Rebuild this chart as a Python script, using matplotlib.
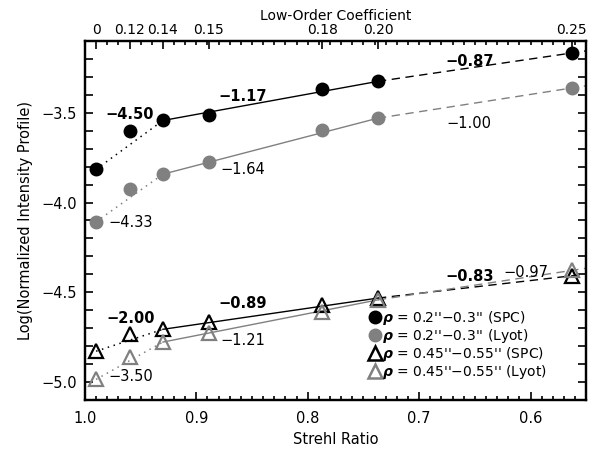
import matplotlib
matplotlib.use('Agg')
import matplotlib.pyplot as plt
from matplotlib.ticker import MultipleLocator
from matplotlib.lines import Line2D

# Strehl ratio of each case and the matching low-order coefficient
strehl = [0.990, 0.960, 0.930, 0.889, 0.787, 0.737, 0.563]
coef_labels = ['0', '0.12', '0.14', '0.15', '0.18', '0.20', '0.25']

# log of normalized intensity profile
spc_inner = [-3.815, -3.604, -3.543, -3.511, -3.368, -3.325, -3.167]
lyot_inner = [-4.107, -3.926, -3.842, -3.775, -3.595, -3.530, -3.362]
spc_outer = [-4.828, -4.733, -4.706, -4.667, -4.570, -4.532, -4.408]
lyot_outer = [-4.985, -4.859, -4.777, -4.725, -4.607, -4.542, -4.378]

# slope labels: (text, x, y, bold)
slope_labels = [
    ('\u22124.50', 0.960, -3.511, True),
    ('\u22121.17', 0.858, -3.411, True),
    ('\u22120.87', 0.655, -3.216, True),
    ('\u22124.33', 0.959, -4.111, False),
    ('\u22121.64', 0.858, -3.814, False),
    ('\u22121.00', 0.655, -3.557, False),
    ('\u22122.00', 0.959, -4.644, True),
    ('\u22120.89', 0.858, -4.564, True),
    ('\u22120.83', 0.655, -4.412, True),
    ('\u22123.50', 0.959, -4.969, False),
    ('\u22121.21', 0.858, -4.768, False),
    ('\u22120.97', 0.604, -4.390, False),
]

legend_labels = [
    "$\\boldsymbol{\\rho}$ = 0.2''\u22120.3'' (SPC)",
    "$\\boldsymbol{\\rho}$ = 0.2''\u22120.3'' (Lyot)",
    "$\\boldsymbol{\\rho}$ = 0.45''\u22120.55'' (SPC)",
    "$\\boldsymbol{\\rho}$ = 0.45''\u22120.55'' (Lyot)",
]

GRAY = '#808080'
X_END = 0.50


def draw_series(ax, y, color, marker, filled):
    # dotted: first to third point, solid: third to sixth, dashed: onwards
    ax.plot([strehl[0], strehl[2]], [y[0], y[2]], color=color, lw=1.1,
            linestyle=(0, (1, 3)), zorder=2)
    ax.plot([strehl[2], strehl[5]], [y[2], y[5]], color=color, lw=1.0, zorder=2)
    slope = (y[6] - y[5]) / (strehl[6] - strehl[5])
    y_end = y[5] + slope * (X_END - strehl[5])
    ax.plot([strehl[5], X_END], [y[5], y_end], color=color, lw=1.0,
            linestyle=(0, (6, 4)), zorder=2)
    if filled:
        ax.plot(strehl, y, linestyle='none', marker=marker, ms=9,
                mfc=color, mec=color, zorder=3)
    else:
        ax.plot(strehl, y, linestyle='none', marker=marker, ms=10,
                mfc='none', mec=color, mew=1.6, zorder=3)


fig = plt.figure(figsize=(5.94, 4.5), dpi=100)
ax = fig.add_axes([0.143, 0.111, 0.844, 0.798])

draw_series(ax, spc_inner, 'black', 'o', True)
draw_series(ax, lyot_inner, GRAY, 'o', True)
draw_series(ax, spc_outer, 'black', '^', False)
draw_series(ax, lyot_outer, GRAY, '^', False)

for txt, x, y, bold in slope_labels:
    ax.text(x, y, txt, ha='center', va='center', fontsize=10.5,
            fontweight='bold' if bold else 'normal', color='black', zorder=4)

ax.set_xlim(1.0, 0.55)
ax.set_ylim(-5.1, -3.1)
ax.set_xticks([1.0, 0.9, 0.8, 0.7, 0.6])
ax.set_xticklabels(['1.0', '0.9', '0.8', '0.7', '0.6'])
ax.xaxis.set_minor_locator(MultipleLocator(0.01))
ax.set_yticks([-5.0, -4.5, -4.0, -3.5])
ax.set_yticklabels(['\u22125.0', '\u22124.5', '\u22124.0', '\u22123.5'])
ax.yaxis.set_minor_locator(MultipleLocator(0.1))
ax.tick_params(axis='both', which='both', direction='in', labelsize=10.5,
               right=True, width=1.2)
ax.tick_params(axis='x', which='major', length=6, pad=8)
ax.tick_params(axis='x', which='minor', length=3)
ax.tick_params(axis='y', which='both', length=6, pad=6)
for s in ax.spines.values():
    s.set_linewidth(1.6)

ax.set_xlabel('Strehl Ratio', fontsize=10.5, labelpad=4)
ax.set_ylabel('Log(Normalized Intensity Profile)', fontsize=10.5, labelpad=6)

ax2 = ax.twiny()
ax2.set_xlim(ax.get_xlim())
ax2.set_xticks(strehl)
ax2.set_xticklabels(coef_labels)
ax2.xaxis.set_minor_locator(MultipleLocator(0.01))
ax2.tick_params(axis='x', which='major', direction='in', length=6,
                width=1.2, labelsize=10, pad=3)
ax2.tick_params(axis='x', which='minor', direction='in', length=3, width=1.2)
ax2.set_xlabel('Low-Order Coefficient', fontsize=10, labelpad=2)
for s in ax2.spines.values():
    s.set_linewidth(1.6)

handles = [
    Line2D([], [], linestyle='none', marker='o', ms=9, mfc='black', mec='black'),
    Line2D([], [], linestyle='none', marker='o', ms=9, mfc=GRAY, mec=GRAY),
    Line2D([], [], linestyle='none', marker='^', ms=10, mfc='none', mec='black', mew=1.8),
    Line2D([], [], linestyle='none', marker='^', ms=10, mfc='none', mec=GRAY, mew=1.8),
]
ax.legend(handles, legend_labels, loc='lower right', bbox_to_anchor=(0.94, 0.025),
          frameon=False, fontsize=10, handlelength=0.6, handletextpad=0.2,
          labelspacing=0.0, borderpad=0.2)

fig.savefig('out.png', dpi=100)
